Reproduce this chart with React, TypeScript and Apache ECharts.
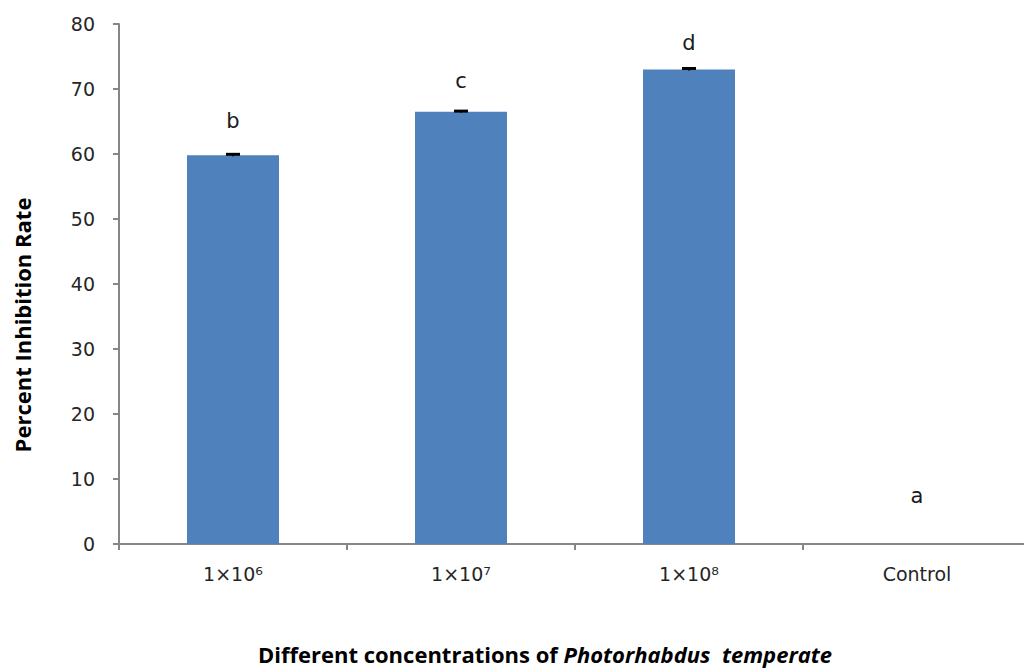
import React, { useEffect, useRef } from "react";
import * as echarts from "echarts";

const categories = ["1×10⁶", "1×10⁷", "1×10⁸", "Control"];
const values = [59.8, 66.5, 73.0, 0];
const errors = [0.15, 0.1, 0.15, 0];
const letters = ["b", "c", "d", "a"];
const letterGaps = [24, 20, 16, 38];

export default function App() {
  const ref = useRef<HTMLDivElement>(null);
  useEffect(() => {
    document.body.style.margin = "0";
    document.body.style.overflow = "hidden";
    const chart = echarts.init(ref.current!, null, { renderer: "svg" });
    const font = "'DejaVu Sans', Verdana, sans-serif";
    const titleFont = "'Open Sans', 'DejaVu Sans', sans-serif";
    chart.setOption({
      animation: false,
      backgroundColor: "#ffffff",
      grid: { left: 119, right: 0, top: 24, bottom: 127 },
      xAxis: {
        type: "category",
        data: categories,
        boundaryGap: true,
        axisLine: { lineStyle: { color: "#868686", width: 2 } },
        axisTick: { show: true, length: 6, lineStyle: { color: "#868686", width: 2 } },
        axisLabel: { color: "#262626", fontSize: 19, fontFamily: font, margin: 20 },
      },
      yAxis: {
        type: "value",
        min: 0,
        max: 80,
        interval: 10,
        axisLine: { show: true, lineStyle: { color: "#868686", width: 2 } },
        axisTick: { show: true, length: 6, lineStyle: { color: "#868686", width: 2 } },
        splitLine: { show: false },
        axisLabel: { color: "#262626", fontSize: 19, fontFamily: font, margin: 24 },
      },
      series: [
        {
          type: "bar",
          data: values.map((v, i) => ({
            value: v,
            label: {
              show: true,
              position: "top",
              distance: letterGaps[i],
              formatter: letters[i],
              color: "#1a1a1a",
              fontSize: 21,
              fontFamily: font,
            },
          })),
          barWidth: 92,
          itemStyle: { color: "#4f81bd" },
        },
        {
          type: "custom",
          data: values.map((v, i) => [i, v, errors[i]]),
          renderItem: (params: any, api: any) => {
            const i = api.value(0);
            const v = api.value(1);
            const e = api.value(2);
            if (v === 0) return null;
            const top = api.coord([i, v + e]);
            const bot = api.coord([i, v - e]);
            const w = 7;
            return {
              type: "group",
              children: [
                { type: "line", shape: { x1: top[0] - w, y1: top[1], x2: top[0] + w, y2: top[1] }, style: { stroke: "#000", lineWidth: 3 } },
                { type: "line", shape: { x1: top[0], y1: top[1], x2: bot[0], y2: bot[1] }, style: { stroke: "#000", lineWidth: 2 } },
              ],
            };
          },
          z: 5,
        },
      ],
      graphic: [
        {
          type: "text",
          x: 22,
          y: 325,
          rotation: Math.PI / 2,
          style: {
            text: "Percent Inhibition Rate",
            font: `bold 22px ${titleFont}`,
            fill: "#000",
            align: "center",
            verticalAlign: "middle",
          },
        },
        {
          type: "text",
          x: 545,
          y: 654,
          style: {
            text: "{n|Different concentrations of }{i|Photorhabdus  temperate}",
            align: "center",
            verticalAlign: "middle",
            rich: {
              n: { font: `bold 22px ${titleFont}`, fill: "#000", lineHeight: 28 },
              i: { font: `italic bold 22px ${titleFont}`, fill: "#000", lineHeight: 28 },
            },
          },
        },
      ],
    });
    return () => chart.dispose();
  }, []);
  return (
    <div style={{ width: 1024, height: 671, overflow: "hidden" }}>
      <div ref={ref} style={{ width: 1031, height: 671 }} />
    </div>
  );
}
